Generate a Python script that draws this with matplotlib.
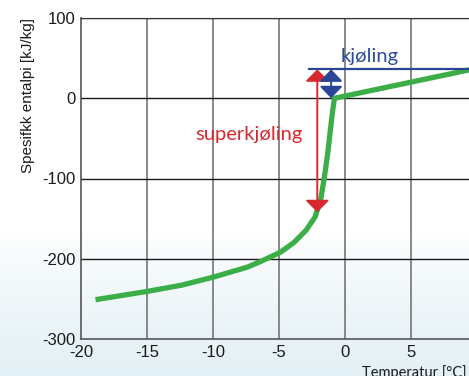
import matplotlib.pyplot as plt
import numpy as np
from matplotlib.colors import LinearSegmentedColormap

plt.rcParams["axes.unicode_minus"] = False

# Curve (temperature in °C, enthalpy in kJ/kg)
temp = [-18.9, -15.1, -12.4, -10.0, -7.4, -6.4, -4.9, -3.85, -2.95, -2.27, -1.85,
        -1.56, -1.31, -1.11, -0.93, -0.8, 9.6, 12]
enthalpy = [-251, -241, -233, -223, -210.5, -203.5, -192, -179.5, -164.5, -148, -127,
            -98, -69, -40, -15, 0, 36, 44]

x_ticks = [-20, -15, -10, -5, 0, 5, 10]
y_ticks = [-300, -200, -100, 0, 100]

subcool_x = -2.1
subcool_range = (-142, 36)
cool_x = -1.05
cool_range = (0, 36)
cool_line_start = -2.7

fig = plt.figure(figsize=(4.69, 3.76), dpi=100)

# soft white-to-blue background
bg = fig.add_axes([0, 0, 1, 1], zorder=-1)
grad = np.ones((376, 1))
grad[230:, 0] = 1 - np.linspace(0, 1, 146) ** 0.8
bg.imshow(grad, aspect="auto", cmap=LinearSegmentedColormap.from_list("bg", ["#e3f0f5", "#ffffff"]),
          vmin=0, vmax=1, extent=[0, 1, 0, 1], origin="upper")
bg.set_axis_off()

ax = fig.add_axes([81 / 469, 37 / 376, 396 / 469, 321 / 376])
ax.patch.set_alpha(0)
ax.set_xlim(-20, 10)
ax.set_ylim(-300, 100)
ax.set_xticks(x_ticks)
ax.set_yticks(y_ticks)
for xv in x_ticks[1:]:
    ax.axvline(xv, color="#6a6a6a", linewidth=1.1, zorder=1)
for yv in y_ticks[1:]:
    ax.axhline(yv, color="#1a1a1a", linewidth=1.0, zorder=1)
for side in ["left", "bottom"]:
    ax.spines[side].set_color("#555555")
    ax.spines[side].set_linewidth(1.2)
ax.spines["top"].set_color("#333333")
ax.spines["right"].set_visible(False)
ax.tick_params(length=0, labelsize=12, colors="#1a1a1a")
ax.tick_params(axis="x", pad=4)
ax.tick_params(axis="y", pad=4)
for lab in ax.get_xticklabels() + ax.get_yticklabels():
    lab.set_family("Liberation Sans")

ax.plot(temp, enthalpy, color="#3cae48", linewidth=3.8, solid_capstyle="butt",
        solid_joinstyle="round", zorder=3)

ax.plot([cool_line_start, 12], [cool_range[1], cool_range[1]], color="#2a4596",
        linewidth=1.6, zorder=4)

ax.annotate("", xy=(subcool_x, subcool_range[0]), xytext=(subcool_x, subcool_range[1]),
            arrowprops=dict(arrowstyle="<|-|>,head_length=0.52,head_width=0.52",
                            color="#d7282f", linewidth=1.4, shrinkA=0, shrinkB=0,
                            mutation_scale=14), zorder=5)
ax.annotate("", xy=(cool_x, cool_range[0]), xytext=(cool_x, cool_range[1]),
            arrowprops=dict(arrowstyle="<|-|>,head_length=0.52,head_width=0.5",
                            color="#2a4596", linewidth=1.4, shrinkA=0, shrinkB=0,
                            mutation_scale=14), zorder=5)

ax.text(1.9, 52, "kjøling", color="#2f4c9c", fontsize=14.5, family="Lato",
        ha="center", va="center")
ax.text(-7.3, -45, "superkjøling", color="#d7282f", fontsize=14.5, family="Lato",
        ha="center", va="center")

ax.set_ylabel("Spesifkk entalpi [kJ/kg]", family="Liberation Sans", fontsize=11,
              color="#1a1a1a")
ax.yaxis.set_label_coords(-0.115, 0.76)
ax.text(0.71, -0.08, "Temperatur [°C]", transform=ax.transAxes, family="Lato",
        fontsize=10.5, color="#1a1a1a", ha="left", va="top")

fig.savefig("out.png", dpi=100)
